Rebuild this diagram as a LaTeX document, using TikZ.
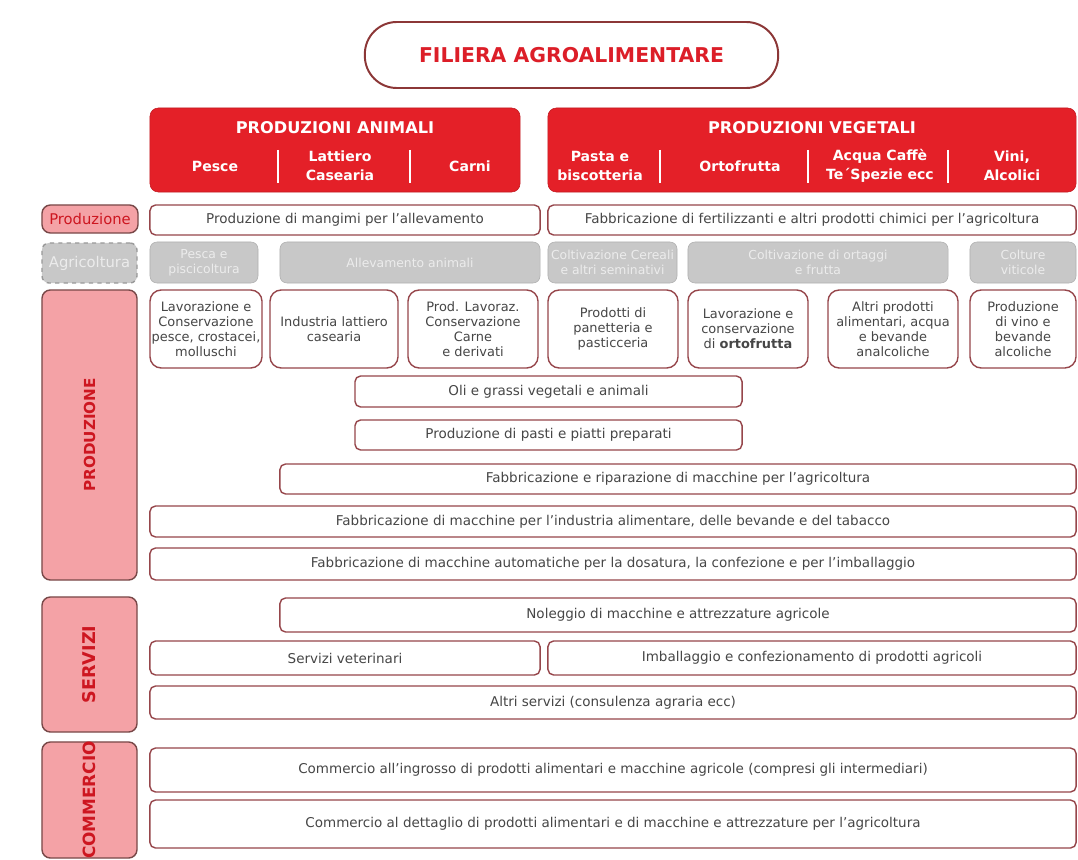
\documentclass[tikz,border=0pt]{standalone}
\usepackage{fontspec}
\setmainfont{DejaVu Sans}
\usepackage{tikz}
\usetikzlibrary{positioning}
\definecolor{titleline}{RGB}{140,55,55}
\definecolor{titlered}{RGB}{220,30,40}
\definecolor{hdred}{RGB}{228,32,40}
\definecolor{lblpink}{RGB}{244,162,166}
\definecolor{lblline}{RGB}{120,72,72}
\definecolor{lblred}{RGB}{205,22,32}
\definecolor{barline}{RGB}{150,70,75}
\definecolor{bartext}{RGB}{70,70,70}
\definecolor{agrifill}{RGB}{200,200,200}
\definecolor{agriline}{RGB}{175,175,175}
\definecolor{agritext}{RGB}{236,236,236}

\begin{document}
\begin{tikzpicture}[
  x=0.025cm,y=-0.025cm,
  font=\fontsize{9.6}{11.5}\selectfont,
  titlebox/.style={draw=titleline,line width=1.4pt,rounded corners=0.8cm,
                   fill=white,text=titlered,
                   font=\fontsize{14.5}{17}\selectfont\bfseries},
  hdr/.style={fill=hdred,draw=hdred!85!black,rounded corners=6pt},
  hdrtitle/.style={text=white,font=\fontsize{11.5}{13}\selectfont\bfseries},
  hdrsub/.style={text=white,align=center,
                 font=\fontsize{10}{13.5}\selectfont\bfseries},
  lbl/.style={draw=lblline,line width=1pt,fill=lblpink,
              rounded corners=6pt,inner sep=0pt},
  lbltxt/.style={text=lblred,rotate=90,
                 font=\fontsize{10.8}{12}\selectfont\bfseries},
  bar/.style={draw=barline,line width=1pt,fill=white,rounded corners=4pt,
              text=bartext,inner sep=0pt},
  cell/.style={bar,rounded corners=8pt,align=center,
               font=\fontsize{9.2}{10.6}\selectfont},
  agri/.style={fill=agrifill,draw=agriline,rounded corners=5pt,
               text=agritext,align=center,inner sep=0pt,
               font=\fontsize{8.8}{10.5}\selectfont}
]
\useasboundingbox[fill=white] (0,0) rectangle (1078,860);

% Title
\node[titlebox,minimum width=10.33cm,minimum height=1.65cm] (title)
  at (571.5,55) {FILIERA AGROALIMENTARE};

% Red headers
\node[hdr,minimum width=9.25cm,minimum height=2.1cm] (animali) at (335,150) {};
\node[hdr,minimum width=13.2cm,minimum height=2.1cm] (vegetali) at (812,150) {};
\node[hdrtitle] (animaliT) at (335,128) {PRODUZIONI ANIMALI};
\node[hdrtitle] (vegetaliT) at (812,128) {PRODUZIONI VEGETALI};

\node[hdrsub] (pesce) at (215,166) {Pesce};
\node[hdrsub] (latt) at (340,166) {Lattiero\\Casearia};
\node[hdrsub] (carni) at (470,166) {Carni};
\node[hdrsub] (pasta) at (600,166) {Pasta e\\biscotteria};
\node[hdrsub] (orto) at (740,166) {Ortofrutta};
\node[hdrsub] (acqua) at (880,166) {Acqua Caffè\\Te´Spezie ecc};
\node[hdrsub] (vini) at (1012,166) {Vini,\\Alcolici};

\foreach \sx in {278,410,660,808,948}
  \draw[white,line width=1pt] (\sx,150) -- (\sx,183);

% Produzione row
\node[lbl,minimum width=2.4cm,minimum height=0.7cm,text=lblred,
      font=\fontsize{10.5}{12}\selectfont] (prodRow) at (90,219) {Produzione};
\node[bar,minimum width=9.75cm,minimum height=0.75cm] (mangimi)
  at (345,220) {Produzione di mangimi per l'allevamento};
\node[bar,minimum width=13.2cm,minimum height=0.75cm] (fertil)
  at (812,220) {Fabbricazione di fertilizzanti e altri prodotti chimici per l'agricoltura};

% Agricoltura row
\node[agri,dashed,draw=gray!80,line width=1pt,minimum width=2.375cm,
      minimum height=1.0cm,font=\fontsize{10.5}{12}\selectfont] (agriRow)
  at (89.5,263) {Agricoltura};
\node[agri,minimum width=2.7cm,minimum height=1.025cm] (pesca)
  at (204,262.5) {Pesca e\\piscicoltura};
\node[agri,minimum width=6.5cm,minimum height=1.025cm] (allev)
  at (410,262.5) {Allevamento animali};
\node[agri,minimum width=3.225cm,minimum height=1.025cm] (cereali)
  at (612.5,262.5) {Coltivazione Cereali\\e altri seminativi};
\node[agri,minimum width=6.5cm,minimum height=1.025cm] (ortaggi)
  at (818,262.5) {Coltivazione di ortaggi\\e frutta};
\node[agri,minimum width=2.65cm,minimum height=1.025cm] (viticole)
  at (1023,262.5) {Colture\\viticole};

% PRODUZIONE group
\node[lbl,minimum width=2.375cm,minimum height=7.25cm] (prodL) at (89.5,435) {};
\node[lbltxt] (prodT) at (prodL.center) {PRODUZIONE};

\node[cell,minimum width=2.8cm,minimum height=1.95cm] (lavPesce)
  at (206,329) {Lavorazione e\\Conservazione\\pesce, crostacei,\\molluschi};
\node[cell,minimum width=3.2cm,minimum height=1.95cm] (indLatt)
  at (334,329) {Industria lattiero\\casearia};
\node[cell,minimum width=3.25cm,minimum height=1.95cm] (carne)
  at (473,329) {Prod. Lavoraz.\\Conservazione\\Carne\\e derivati};
\node[cell,minimum width=3.25cm,minimum height=1.95cm] (panett)
  at (613,329) {Prodotti di\\panetteria e\\pasticceria};
\node[cell,minimum width=3.0cm,minimum height=1.95cm] (lavOrto)
  at (748,329) {Lavorazione e\\conservazione\\di \textbf{ortofrutta}};
\node[cell,minimum width=3.25cm,minimum height=1.95cm] (altriProd)
  at (893,329) {Altri prodotti\\alimentari, acqua\\e bevande\\analcoliche};
\node[cell,minimum width=2.65cm,minimum height=1.95cm] (vino)
  at (1023,329) {Produzione\\di vino e\\bevande\\alcoliche};

\node[bar,minimum width=9.675cm,minimum height=0.775cm] (oli)
  at (548.5,391.5) {Oli e grassi vegetali e animali};
\node[bar,minimum width=9.675cm,minimum height=0.75cm] (pasti)
  at (548.5,435) {Produzione di pasti e piatti preparati};
\node[bar,minimum width=19.9cm,minimum height=0.75cm] (macAgri)
  at (678,479) {Fabbricazione e riparazione di macchine per l'agricoltura};
\node[bar,minimum width=23.15cm,minimum height=0.775cm] (macInd)
  at (613,521.5) {Fabbricazione di macchine per l'industria alimentare, delle bevande e del tabacco};
\node[bar,minimum width=23.15cm,minimum height=0.8cm] (macAuto)
  at (613,564) {Fabbricazione di macchine automatiche per la dosatura, la confezione e per l'imballaggio};

% SERVIZI group
\node[lbl,minimum width=2.375cm,minimum height=3.375cm] (servL) at (89.5,664.5) {};
\node[lbltxt,font=\fontsize{12.5}{14}\selectfont\bfseries] (servT)
  at (servL.center) {SERVIZI};

\node[bar,minimum width=19.9cm,minimum height=0.85cm] (noleggio)
  at (678,615) {Noleggio di macchine e attrezzature agricole};
\node[bar,minimum width=9.75cm,minimum height=0.85cm] (veter)
  at (345,658) {Servizi veterinari};
\node[bar,minimum width=13.2cm,minimum height=0.85cm] (imball)
  at (812,658) {Imballaggio e confezionamento di prodotti agricoli};
\node[bar,minimum width=23.15cm,minimum height=0.825cm] (altriServ)
  at (613,702.5) {Altri servizi (consulenza agraria ecc)};

% COMMERCIO group
\node[lbl,minimum width=2.375cm,minimum height=2.9cm] (commL) at (89.5,800) {};
\node[lbltxt,font=\fontsize{12}{13}\selectfont\bfseries] (commT)
  at (commL.center) {COMMERCIO};

\node[bar,minimum width=23.15cm,minimum height=1.1cm] (ingrosso)
  at (613,770) {Commercio all'ingrosso di prodotti alimentari e macchine agricole (compresi gli intermediari)};
\node[bar,minimum width=23.15cm,minimum height=1.2cm] (dettaglio)
  at (613,824) {Commercio al dettaglio di prodotti alimentari e di macchine e attrezzature per l'agricoltura};

\end{tikzpicture}
\end{document}
